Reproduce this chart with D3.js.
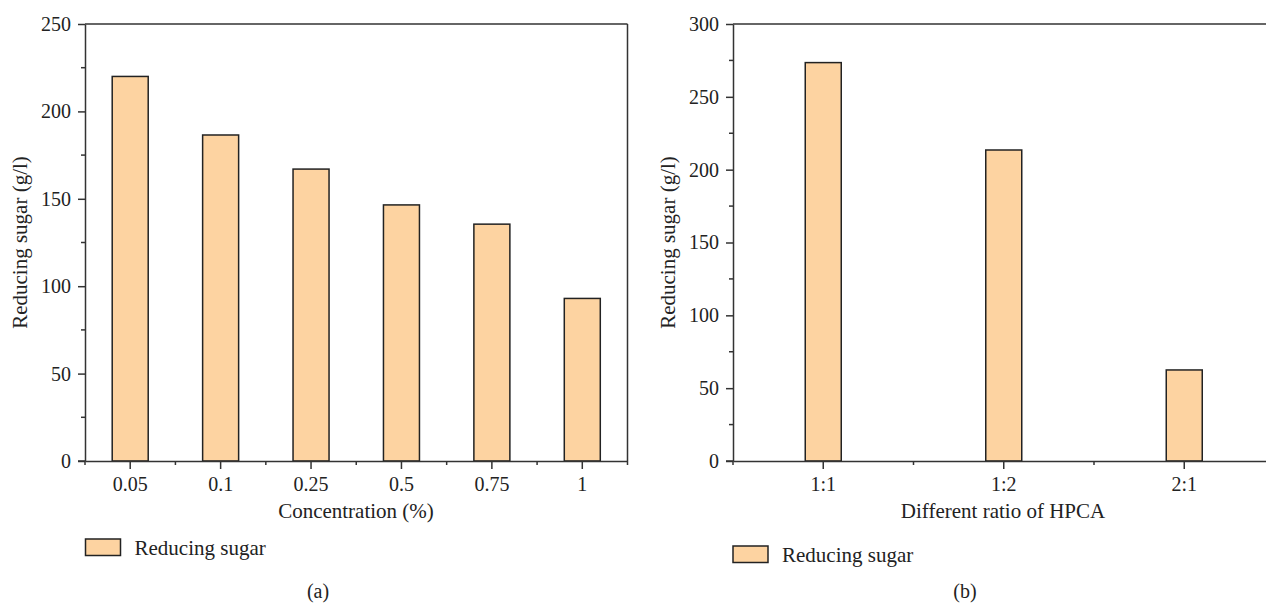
<!DOCTYPE html>
<html>
<head>
<meta charset="utf-8">
<script src="https://cdn.jsdelivr.net/npm/d3@7"></script>
<style>
  html, body { margin: 0; padding: 0; background: #fff; }
  svg { display: block; }
  text { font-family: "Liberation Serif", "DejaVu Serif", serif; fill: #222; }
</style>
</head>
<body>
<svg id="chart" width="1266" height="606"></svg>
<script>
// ---- Data ----
const concCategories = ["0.05", "0.1", "0.25", "0.5", "0.75", "1"];
const concValues = [220, 186.5, 167, 146.5, 135.5, 93];
const ratioCategories = ["1:1", "1:2", "2:1"];
const ratioValues = [273.5, 213.5, 62.5];
const leftYTicks = [0, 50, 100, 150, 200, 250];
const rightYTicks = [0, 50, 100, 150, 200, 250, 300];
const seriesName = "Reducing sugar";

const svg = d3.select("#chart");
const barFill = "#FDD3A1";
const lineColor = "#333";
const tickFont = 20;
const titleFont = 21;

function panel(opts) {
  const { x0, x1, yTop, yBot, cats, vals, yMax, yTicks, minorStep, xTitle, legend, sub, barW } = opts;
  const g = svg.append("g");
  const x = d3.scaleBand().domain(cats).range([x0, x1]).paddingInner(0).paddingOuter(0);
  const y = d3.scaleLinear().domain([0, yMax]).range([yBot, yTop]);
  const bw = barW;

  // bars
  g.selectAll("rect.bar").data(cats).join("rect")
    .attr("class", "bar")
    .attr("x", d => x(d) + x.bandwidth() / 2 - bw / 2)
    .attr("y", (d, i) => y(vals[i]))
    .attr("width", bw)
    .attr("height", (d, i) => y(0) - y(vals[i]))
    .attr("fill", barFill)
    .attr("stroke", "#222")
    .attr("stroke-width", 1.5);

  // frame: top and right
  g.append("line").attr("x1", x0).attr("x2", x1).attr("y1", yTop).attr("y2", yTop)
    .attr("stroke", lineColor).attr("stroke-width", 1.5);
  g.append("line").attr("x1", x1).attr("x2", x1).attr("y1", yTop).attr("y2", yBot)
    .attr("stroke", lineColor).attr("stroke-width", 1.5);

  // y axis
  const yAxis = g.append("g").attr("transform", `translate(${x0},0)`)
    .call(d3.axisLeft(y).tickValues(yTicks).tickSize(7).tickPadding(7).tickSizeOuter(0));
  yAxis.select(".domain").attr("stroke", lineColor).attr("stroke-width", 1.5);
  yAxis.selectAll(".tick line").attr("stroke", lineColor).attr("stroke-width", 1.5);
  yAxis.selectAll(".tick text").style("font-size", tickFont + "px")
    .style("font-family", "'Liberation Serif', serif").attr("fill", "#222");
  const yMinor = d3.range(minorStep, yMax, minorStep * 2);
  g.selectAll("line.yminor").data(yMinor).join("line")
    .attr("x1", x0 - 4).attr("x2", x0).attr("y1", d => y(d)).attr("y2", d => y(d))
    .attr("stroke", lineColor).attr("stroke-width", 1.5);

  // x axis
  const xAxis = g.append("g").attr("transform", `translate(0,${yBot})`)
    .call(d3.axisBottom(x).tickSize(8).tickPadding(8).tickSizeOuter(0));
  xAxis.select(".domain").attr("stroke", lineColor).attr("stroke-width", 1.5);
  xAxis.selectAll(".tick line").attr("stroke", lineColor).attr("stroke-width", 1.5);
  xAxis.selectAll(".tick text").style("font-size", tickFont + "px")
    .style("font-family", "'Liberation Serif', serif").attr("fill", "#222");
  const bounds = cats.map(c => x(c)).concat([x1]);
  g.selectAll("line.xminor").data(bounds).join("line")
    .attr("x1", d => d).attr("x2", d => d).attr("y1", yBot).attr("y2", yBot + 4)
    .attr("stroke", lineColor).attr("stroke-width", 1.5);
  g.append("line").attr("x1", x0 - 7).attr("x2", x0).attr("y1", yBot).attr("y2", yBot)
    .attr("stroke", lineColor).attr("stroke-width", 1.5);

  // y title
  g.append("text")
    .attr("transform", `translate(${x0 - 58},${(yTop + yBot) / 2}) rotate(-90)`)
    .attr("text-anchor", "middle")
    .style("font-size", titleFont + "px")
    .text("Reducing sugar (g/l)");

  // x title
  g.append("text")
    .attr("x", opts.xTitleX).attr("y", 518)
    .attr("text-anchor", "middle")
    .style("font-size", titleFont + "px")
    .text(xTitle);

  // legend
  g.append("rect").attr("x", legend.x).attr("y", legend.y).attr("width", 35).attr("height", 16.5)
    .attr("fill", barFill).attr("stroke", "#222").attr("stroke-width", 1.5);
  g.append("text").attr("x", legend.x + 49).attr("y", legend.y + 15.5)
    .style("font-size", titleFont + "px").text(seriesName);

  // sub label
  g.append("text").attr("x", sub.x).attr("y", 598).attr("text-anchor", "middle")
    .style("font-size", tickFont + "px").text(sub.label);
}

panel({
  x0: 85, x1: 627.5, yTop: 24, yBot: 461, barW: 36,
  cats: concCategories, vals: concValues, yMax: 250, yTicks: leftYTicks, minorStep: 25,
  xTitle: "Concentration (%)", xTitleX: 356,
  legend: { x: 85.5, y: 539 },
  sub: { x: 318, label: "(a)" }
});

panel({
  x0: 733, x1: 1274.5, yTop: 24, yBot: 461, barW: 36,
  cats: ratioCategories, vals: ratioValues, yMax: 300, yTicks: rightYTicks, minorStep: 25,
  xTitle: "Different ratio of HPCA", xTitleX: 1003,
  legend: { x: 733, y: 546 },
  sub: { x: 965, label: "(b)" }
});
</script>
</body>
</html>
